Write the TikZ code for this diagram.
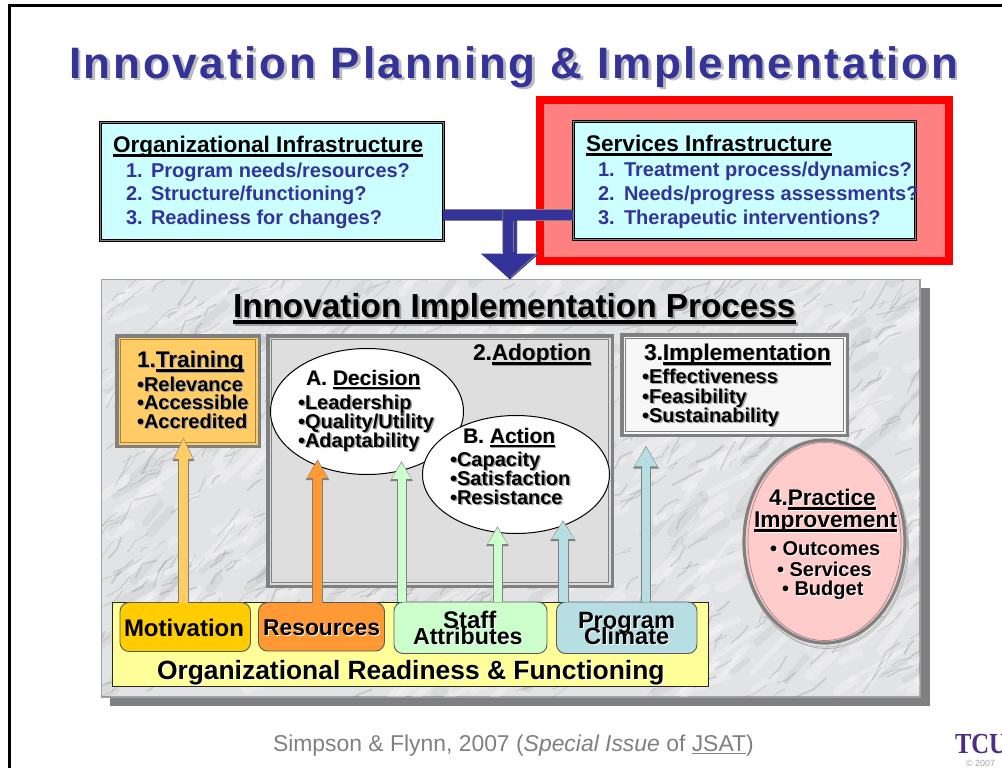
\documentclass[tikz,border=0pt]{standalone}
\usepackage{fontspec}
\setmainfont{Liberation Sans}
\newfontfamily\titlefont[LetterSpace=6.2]{Liberation Sans}
\usetikzlibrary{arrows.meta,shapes.geometric,calc}
\definecolor{navy}{HTML}{333399}
\definecolor{panelbase}{HTML}{E2E3E5}
\definecolor{frameg}{HTML}{808080}
\definecolor{cyanbox}{HTML}{CCFFFF}
\definecolor{redfill}{HTML}{FF8080}
\definecolor{tan}{HTML}{FFCC66}
\definecolor{orng}{HTML}{FF9933}
\definecolor{grn}{HTML}{CCFFCC}
\definecolor{teal}{HTML}{B7DEE3}
\definecolor{gold}{HTML}{FFCC00}
\definecolor{yel}{HTML}{FFFF99}
\definecolor{pink}{HTML}{FFCCCC}
\definecolor{shgray}{HTML}{A0A0A0}
\definecolor{tcu}{HTML}{4D2C85}
\newcommand\myul[1]{\setbox0\hbox{#1}\leavevmode\rlap{\rule[-.21em]{\wd0}{.12em}}\box0}
\newcommand\thinul[1]{\setbox0\hbox{#1}\leavevmode\rlap{\rule[-.14em]{\wd0}{.06em}}\box0}
\newcommand\fsz[1]{\fontsize{#1}{#1}\selectfont\bfseries}
% text line: name, x, baseline y, style, text
\newcommand\tx[5]{\node[anchor=base west,inner sep=0,outer sep=0,#4] (#1) at (#2,#3) {#5};}
% line with offset shadow: name, x, y, style, shadow colour, offset, text
\newcommand\stx[7]{\node[anchor=base west,inner sep=0,outer sep=0,#4,text=#5] (#1s) at ({#2+#6},{#3+#6}) {#7};\tx{#1}{#2}{#3}{#4}{#7}}
% box from corners: name,x1,y1,x2,y2,style
\newcommand\bx[6]{\pgfmathsetmacro\bxw{#4-#2}\pgfmathsetmacro\bxh{#5-#3}\node[inner sep=0,outer sep=0,minimum width=\bxw pt,minimum height=\bxh pt,#6] (#1) at ({(#2+#4)/2},{(#3+#5)/2}) {};}
% block arrow: tip coordinate, start node, fill, stem width, head half width, head length
\newcommand\barrow[6]{%
\pgfmathsetmacro\oa{#4+2}\pgfmathsetmacro\ob{2*#5+1}\pgfmathsetmacro\oc{#6+1}
\pgfmathsetmacro\ia{#4}\pgfmathsetmacro\ib{2*#5-2}\pgfmathsetmacro\ic{#6-2.5}
\draw[draw=frameg,fill=frameg,line width=\oa pt,-{Triangle[length=\oc pt,width=\ob pt]}] (#1 |- #2.north) -- (#1);
\draw[draw=#3,fill=#3,line width=\ia pt,shorten >=1.4pt,-{Triangle[length=\ic pt,width=\ib pt]}] (#1 |- #2.north) -- (#1);}
\tikzset{
 infobox/.style={draw=black,double=frameg,double distance=1pt,line width=1pt,fill=cyanbox},
 framebox/.style={draw=frameg,line width=3.5pt,fill=#1},
 pill/.style={draw=black!65,line width=.9pt,rounded corners=9pt,fill=#1},
 oval/.style={ellipse,draw=black,line width=1pt,fill=white},
 blue/.style={text=navy},
 bar/.style={draw=frameg,fill=navy,line width=.8pt},
}
\begin{document}
\begin{tikzpicture}[x=1pt,y=-1pt]
\useasboundingbox (0,0) rectangle (1002,768);
\fill[white] (0,0) rectangle (1002,768);
\draw[black,line width=3pt] (9,768) -- (9,5.5) -- (1002,5.5);
% title
\node[anchor=base west,inner sep=0,text=shgray!70,font=\titlefont\fsz{44}] (titles) at (71.5,80.5) {Innovation Planning \& Implementation};
\tx{title}{69}{78}{text=navy,font=\titlefont\fsz{44}}{Innovation Planning \& Implementation}
% red highlight and infrastructure boxes
\bx{redbox}{540}{100}{949}{261}{draw=red,line width=8pt,fill=redfill}
\bx{org}{100.5}{122.2}{443.2}{240.2}{infobox}
\bx{serv}{573.2}{121.5}{915.5}{239.2}{infobox}
\tx{orgt}{113}{152}{font=\fsz{22.6}}{\myul{Organizational Infrastructure}}
\tx{orgn1}{126}{177}{blue,font=\fsz{20}}{1.}
\tx{orgl1}{151}{177}{blue,font=\fsz{20}}{Program needs/resources?}
\tx{orgn2}{126}{200.5}{blue,font=\fsz{20}}{2.}
\tx{orgl2}{151}{200.5}{blue,font=\fsz{20}}{Structure/functioning?}
\tx{orgn3}{126}{224.5}{blue,font=\fsz{20}}{3.}
\tx{orgl3}{151}{224.5}{blue,font=\fsz{20}}{Readiness for changes?}
\tx{servt}{586}{151}{font=\fsz{22.6}}{\myul{Services Infrastructure}}
\tx{servn1}{598}{176}{blue,font=\fsz{20}}{1.}
\tx{servl1}{624}{176}{blue,font=\fsz{20}}{Treatment process/dynamics?}
\tx{servn2}{598}{200}{blue,font=\fsz{20}}{2.}
\tx{servl2}{624}{200}{blue,font=\fsz{20}}{Needs/progress assessments?}
\tx{servn3}{598}{224}{blue,font=\fsz{20}}{3.}
\tx{servl3}{624}{224}{blue,font=\fsz{20}}{Therapeutic interventions?}
% panel
\fill[frameg] (110,288) rectangle (930,706);
\bx{panel}{101.5}{279.5}{920}{697}{draw=shgray,line width=1.5pt,fill=panelbase}
\begin{scope}
\clip (102,280) rectangle (919.5,696.5);
\pgfmathsetseed{11}
\foreach \i in {1,...,160}{
  \pgfmathsetmacro\xa{95+rnd*830}\pgfmathsetmacro\ya{275+rnd*425}
  \pgfmathsetmacro\ln{15+rnd*40}\pgfmathsetmacro\an{25+rnd*30}
  \pgfmathsetmacro\wd{4+rnd*8}
  \draw[black,opacity=.045,line width=\wd pt,line cap=round] (\xa,\ya) -- ++({\ln*cos(\an)},{-\ln*sin(\an)});
}
\foreach \i in {1,...,380}{
  \pgfmathsetmacro\xa{95+rnd*830}\pgfmathsetmacro\ya{275+rnd*425}
  \pgfmathsetmacro\ln{15+rnd*45}\pgfmathsetmacro\an{20+rnd*35}
  \pgfmathsetmacro\wd{3+rnd*8}
  \draw[white,opacity=.28,line width=\wd pt,line cap=round] (\xa,\ya) -- ++({\ln*cos(\an)},{-\ln*sin(\an)});
}
\foreach \i in {1,...,650}{
  \pgfmathsetmacro\xa{95+rnd*830}\pgfmathsetmacro\ya{275+rnd*425}
  \pgfmathsetmacro\ln{4+rnd*14}\pgfmathsetmacro\an{10+rnd*60}\pgfmathsetmacro\bn{10+rnd*60}
  \pgfmathsetmacro\wd{.5+rnd*1.5}
  \draw[black!60,opacity=.2,line width=\wd pt,line cap=round,line join=round] (\xa,\ya) -- ++({\ln*cos(\an)},{-\ln*sin(\an)}) -- ++({\ln*cos(\bn)},{-\ln*sin(\bn)});
}
\end{scope}
% connectors from the two infrastructure boxes to the panel
\coordinate (jn) at (510,215);
\draw[bar,line width=11pt,draw=navy] (org.east |- jn) -- (jn);
\draw[bar,line width=11pt,draw=navy] (serv.west |- jn) -- (jn);
\draw[frameg,line width=.8pt] (445,209.6) -- (572,209.6) (445,220.8) -- (503,220.8) (517,220.8) -- (572,220.8);
\draw[draw=navy,fill=navy,line width=14pt,-{Triangle[length=26pt,width=57pt]}] (jn) -- (jn |- panel.north);
\draw[frameg,line width=.8pt] (502.7,210) -- (502.7,252) (513.5,221) -- (513.5,252) (517,221) -- (517,252) (538,252.5) -- (511,277);
% panel title
\stx{ptitle}{233}{317}{font=\fsz{33.3}}{shgray}{2}{\myul{Innovation Implementation Process}}
% stage boxes
\bx{training}{116.75}{335.75}{259.25}{446.25}{framebox=tan}
\draw[black!35!tan,line width=.9pt] ([shift={(3.5,3.5)}]training.north west) rectangle ([shift={(-3.5,-3.5)}]training.south east);
\bx{adoption}{267.75}{335.75}{612.25}{586.25}{framebox=black!13}
\draw[frameg,line width=.9pt] ([shift={(3.5,3.5)}]adoption.north west) rectangle ([shift={(-3.5,-3.5)}]adoption.south east);
\bx{impl}{621.75}{334.75}{847.25}{435.25}{framebox=black!3}
\draw[frameg,line width=.9pt] ([shift={(3.5,3.5)}]impl.north west) rectangle ([shift={(-3.5,-3.5)}]impl.south east);
% ovals
\node[oval,minimum width=193pt,minimum height=126pt,inner sep=0] (decision) at (367,411.5) {};
\node[oval,minimum width=187pt,minimum height=118pt,inner sep=0] (action) at (516,474.5) {};
\draw[black!30,line width=.7pt] (826.5,545.5) circle[x radius=82,y radius=103];
\draw[black!30,line width=.7pt] (825.5,544) circle[x radius=82,y radius=103];
\node[ellipse,draw=frameg,line width=3.2pt,fill=pink,minimum width=161pt,minimum height=203pt,inner sep=0] (practice) at (824.5,541.5) {};
\draw[black!35!pink,line width=.7pt] (practice.center) circle[x radius=76.5,y radius=99];
% readiness bar
\bx{readiness}{112.5}{602}{708.5}{686}{draw=black!85,line width=1pt,fill=yel}
\bx{motiv}{120}{602.5}{250.5}{651.5}{pill=gold}
\bx{resrc}{258.5}{602.5}{384.5}{651}{pill=orng}
\bx{staff}{394}{602}{547}{653.5}{pill=grn}
\bx{climate}{556.5}{602}{697}{653.5}{pill=teal}
% vertical arrows
\coordinate (t1) at (183.5,437);
\coordinate (t2) at (317.5,459);
\coordinate (t3) at (401.5,461);
\coordinate (t4) at (497.5,526);
\coordinate (t5) at (563,520);
\coordinate (t6) at (646,445.5);
\barrow{t1}{motiv}{tan}{9}{9.5}{23}
\barrow{t2}{resrc}{orng}{9}{10.5}{20}
\barrow{t3}{staff}{grn}{8}{10}{19}
\barrow{t4}{staff}{grn}{8}{10}{19}
\barrow{t5}{climate}{teal}{9}{11.5}{20}
\barrow{t6}{climate}{teal}{8}{11.5}{22}
% training
\stx{trh}{137}{367}{font=\fsz{22.6}}{shgray}{1}{1.\myul{Training}}
\stx{tr1}{137}{391}{font=\fsz{20}}{shgray}{1.2}{•Relevance}
\stx{tr2}{137}{409}{font=\fsz{20}}{shgray}{1.2}{•Accessible}
\stx{tr3}{137}{428}{font=\fsz{20}}{shgray}{1.2}{•Accredited}
% adoption
\stx{adh}{473}{360}{font=\fsz{22.6}}{shgray}{.8}{2.\myul{Adoption}}
\stx{deh}{306}{385}{font=\fsz{21}}{shgray}{.8}{A. \myul{Decision}}
\stx{de1}{298}{409}{font=\fsz{20}}{shgray}{1.5}{•Leadership}
\stx{de2}{298}{428}{font=\fsz{20}}{shgray}{1.5}{•Quality/Utility}
\stx{de3}{298}{447}{font=\fsz{20}}{shgray}{1.5}{•Adaptability}
\stx{ach}{463}{443}{font=\fsz{21}}{shgray}{.8}{B. \myul{Action}}
\stx{ac1}{450}{466}{font=\fsz{20}}{shgray}{1.5}{•Capacity}
\stx{ac2}{450}{485}{font=\fsz{20}}{shgray}{1.5}{•Satisfaction}
\stx{ac3}{450}{504}{font=\fsz{20}}{shgray}{1.5}{•Resistance}
% implementation
\stx{imh}{644}{360}{font=\fsz{22.7}}{shgray}{.8}{3.\myul{Implementation}}
\stx{im1}{642}{383}{font=\fsz{20}}{shgray}{1.5}{•Effectiveness}
\stx{im2}{642}{403}{font=\fsz{20}}{shgray}{1.5}{•Feasibility}
\stx{im3}{642}{422}{font=\fsz{20}}{shgray}{1.5}{•Sustainability}
% practice
\stx{prh}{769}{505}{font=\fsz{22.6}}{white}{1}{4.\myul{Practice}}
\stx{pri}{754}{527}{font=\fsz{22.8}}{white}{1}{\myul{Improvement}}
\stx{pr1}{770}{555}{font=\fsz{20}}{white}{1}{• Outcomes}
\stx{pr2}{777}{576}{font=\fsz{20}}{white}{1}{• Services}
\stx{pr3}{782}{595}{font=\fsz{20}}{white}{1}{• Budget}
% readiness labels
\tx{motl}{124}{636}{font=\fsz{24}}{Motivation}
\stx{resl}{263}{635}{font=\fsz{22.9}}{white}{1}{Resources}
\stx{stl1}{443}{628}{font=\fsz{24}}{white}{1}{Staff}
\stx{stl2}{413}{644}{font=\fsz{23.2}}{white}{1}{Attributes}
\stx{prl1}{578}{628}{font=\fsz{23.6}}{white}{1}{Program}
\stx{prl2}{584}{644}{font=\fsz{23.6}}{white}{1}{Climate}
\stx{orl}{157}{679}{font=\fsz{26.4}}{white}{1}{Organizational Readiness \& Functioning}
% footer
\tx{foot}{273}{751}{text=frameg,font=\fontsize{22.9}{22.9}\selectfont}{Simpson \& Flynn, 2007 (\textit{Special Issue} of \thinul{\vphantom{p}JSAT})}
\begin{scope}
\clip (940,720) rectangle (1002,768);
\tx{tcul}{955}{753}{text=tcu,font=\fontspec{Liberation Serif}\fsz{29}}{\scalebox{.85}[1]{TCU}}
\end{scope}
\tx{copy}{966}{766}{text=black!35,font=\fontsize{9}{9}\selectfont}{© 2007}
\end{tikzpicture}
\end{document}
